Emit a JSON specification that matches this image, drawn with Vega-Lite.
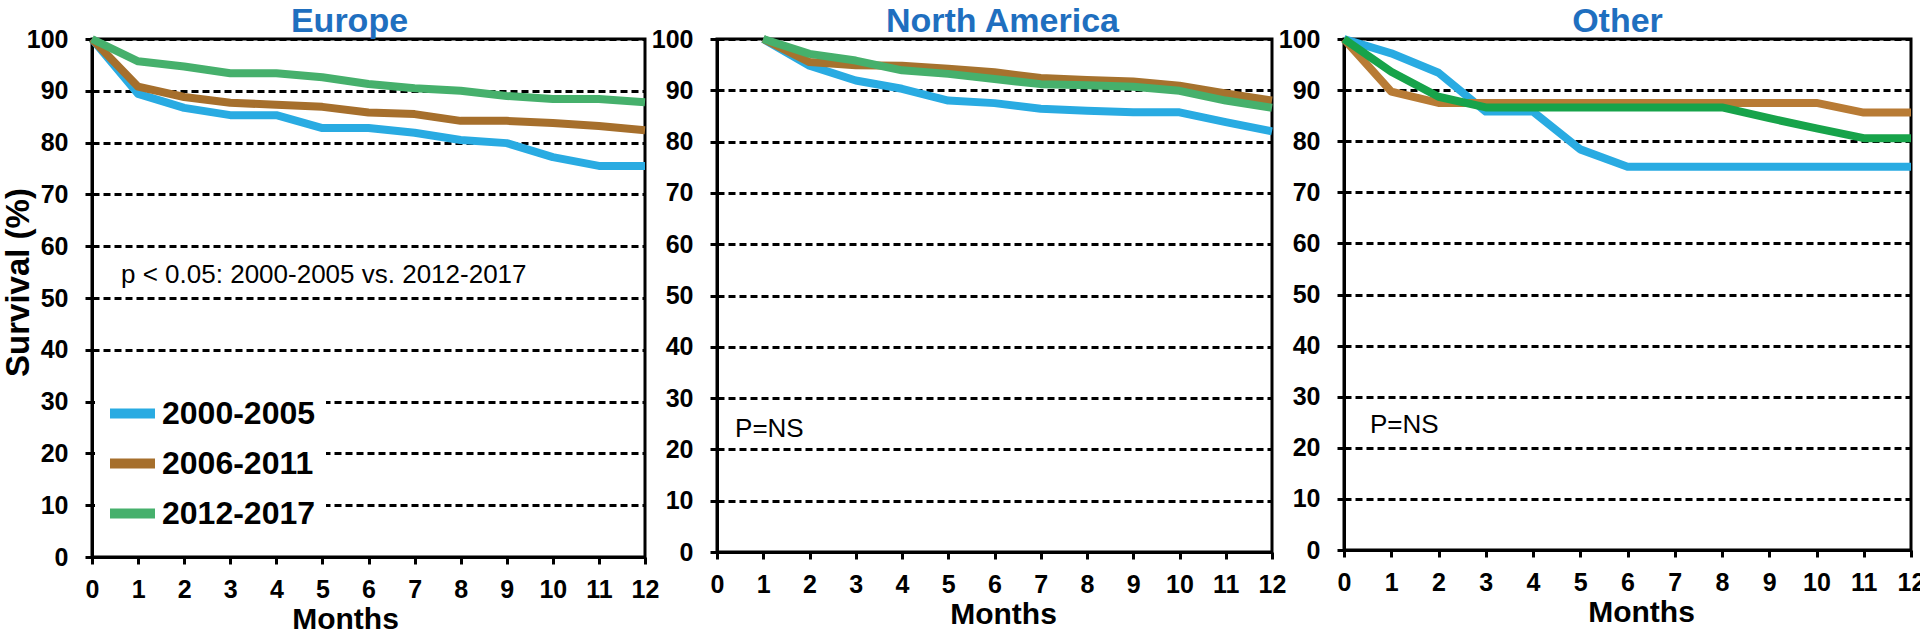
{
  "$schema": "https://vega.github.io/schema/vega-lite/v6.json",
  "background": "white",
  "padding": {"left": 0, "top": 3, "right": 0, "bottom": 0},
  "autosize": {"type": "pad"},
  "config": {
    "font": "Liberation Sans",
    "view": {"stroke": "black", "strokeWidth": 3},
    "axis": {
      "domainColor": "black", "domainWidth": 3,
      "tickColor": "black", "tickWidth": 3, "tickSize": 7,
      "labelFont": "Liberation Sans", "labelFontSize": 25, "labelFontWeight": "bold", "labelColor": "black",
      "titleFont": "Liberation Sans", "titleFontSize": 30, "titleFontWeight": "bold", "titleColor": "black"
    },
    "axisY": {"grid": true, "gridColor": "black", "gridWidth": 3, "gridDash": [7, 4], "labelPadding": 17, "values": [0,10,20,30,40,50,60,70,80,90,100]},
    "axisX": {"grid": false, "labelPadding": 13, "titlePadding": 2, "values": [0,1,2,3,4,5,6,7,8,9,10,11,12], "labelFlush": false},
    "title": {"font": "Liberation Sans", "fontSize": 34, "fontWeight": "bold", "color": "#1f6fbf", "anchor": "middle", "frame": "group", "offset": -12}
  },
  "datasets": {
    "europe": [
      {"period": "2000-2005", "month": 0, "survival": 100}, {"period": "2000-2005", "month": 1, "survival": 89.4}, {"period": "2000-2005", "month": 2, "survival": 86.7}, {"period": "2000-2005", "month": 3, "survival": 85.3}, {"period": "2000-2005", "month": 4, "survival": 85.3}, {"period": "2000-2005", "month": 5, "survival": 82.8}, {"period": "2000-2005", "month": 6, "survival": 82.8}, {"period": "2000-2005", "month": 7, "survival": 81.9}, {"period": "2000-2005", "month": 8, "survival": 80.5}, {"period": "2000-2005", "month": 9, "survival": 79.9}, {"period": "2000-2005", "month": 10, "survival": 77.2}, {"period": "2000-2005", "month": 11, "survival": 75.5}, {"period": "2000-2005", "month": 12, "survival": 75.5},
      {"period": "2006-2011", "month": 0, "survival": 100}, {"period": "2006-2011", "month": 1, "survival": 90.8}, {"period": "2006-2011", "month": 2, "survival": 88.8}, {"period": "2006-2011", "month": 3, "survival": 87.7}, {"period": "2006-2011", "month": 4, "survival": 87.3}, {"period": "2006-2011", "month": 5, "survival": 86.9}, {"period": "2006-2011", "month": 6, "survival": 85.8}, {"period": "2006-2011", "month": 7, "survival": 85.5}, {"period": "2006-2011", "month": 8, "survival": 84.2}, {"period": "2006-2011", "month": 9, "survival": 84.2}, {"period": "2006-2011", "month": 10, "survival": 83.8}, {"period": "2006-2011", "month": 11, "survival": 83.2}, {"period": "2006-2011", "month": 12, "survival": 82.4},
      {"period": "2012-2017", "month": 0, "survival": 100}, {"period": "2012-2017", "month": 1, "survival": 95.7}, {"period": "2012-2017", "month": 2, "survival": 94.7}, {"period": "2012-2017", "month": 3, "survival": 93.4}, {"period": "2012-2017", "month": 4, "survival": 93.4}, {"period": "2012-2017", "month": 5, "survival": 92.6}, {"period": "2012-2017", "month": 6, "survival": 91.3}, {"period": "2012-2017", "month": 7, "survival": 90.5}, {"period": "2012-2017", "month": 8, "survival": 90.0}, {"period": "2012-2017", "month": 9, "survival": 89.0}, {"period": "2012-2017", "month": 10, "survival": 88.4}, {"period": "2012-2017", "month": 11, "survival": 88.4}, {"period": "2012-2017", "month": 12, "survival": 87.8}
    ],
    "northamerica": [
      {"period": "2000-2005", "month": 1, "survival": 100}, {"period": "2000-2005", "month": 2, "survival": 94.8}, {"period": "2000-2005", "month": 3, "survival": 91.9}, {"period": "2000-2005", "month": 4, "survival": 90.3}, {"period": "2000-2005", "month": 5, "survival": 88.0}, {"period": "2000-2005", "month": 6, "survival": 87.5}, {"period": "2000-2005", "month": 7, "survival": 86.4}, {"period": "2000-2005", "month": 8, "survival": 86.0}, {"period": "2000-2005", "month": 9, "survival": 85.7}, {"period": "2000-2005", "month": 10, "survival": 85.7}, {"period": "2000-2005", "month": 11, "survival": 83.8}, {"period": "2000-2005", "month": 12, "survival": 82.0},
      {"period": "2006-2011", "month": 1, "survival": 100}, {"period": "2006-2011", "month": 2, "survival": 95.5}, {"period": "2006-2011", "month": 3, "survival": 94.9}, {"period": "2006-2011", "month": 4, "survival": 94.8}, {"period": "2006-2011", "month": 5, "survival": 94.2}, {"period": "2006-2011", "month": 6, "survival": 93.5}, {"period": "2006-2011", "month": 7, "survival": 92.4}, {"period": "2006-2011", "month": 8, "survival": 92.0}, {"period": "2006-2011", "month": 9, "survival": 91.7}, {"period": "2006-2011", "month": 10, "survival": 90.9}, {"period": "2006-2011", "month": 11, "survival": 89.4}, {"period": "2006-2011", "month": 12, "survival": 88.0},
      {"period": "2012-2017", "month": 1, "survival": 100}, {"period": "2012-2017", "month": 2, "survival": 97.1}, {"period": "2012-2017", "month": 3, "survival": 95.8}, {"period": "2012-2017", "month": 4, "survival": 93.9}, {"period": "2012-2017", "month": 5, "survival": 93.2}, {"period": "2012-2017", "month": 6, "survival": 92.2}, {"period": "2012-2017", "month": 7, "survival": 91.2}, {"period": "2012-2017", "month": 8, "survival": 91.0}, {"period": "2012-2017", "month": 9, "survival": 90.7}, {"period": "2012-2017", "month": 10, "survival": 89.9}, {"period": "2012-2017", "month": 11, "survival": 88.0}, {"period": "2012-2017", "month": 12, "survival": 86.6}
    ],
    "other": [
      {"period": "2000-2005", "month": 0, "survival": 100}, {"period": "2000-2005", "month": 1, "survival": 97.2}, {"period": "2000-2005", "month": 2, "survival": 93.4}, {"period": "2000-2005", "month": 3, "survival": 85.8}, {"period": "2000-2005", "month": 4, "survival": 85.8}, {"period": "2000-2005", "month": 5, "survival": 78.4}, {"period": "2000-2005", "month": 6, "survival": 75.0}, {"period": "2000-2005", "month": 7, "survival": 75.0}, {"period": "2000-2005", "month": 8, "survival": 75.0}, {"period": "2000-2005", "month": 9, "survival": 75.0}, {"period": "2000-2005", "month": 10, "survival": 75.0}, {"period": "2000-2005", "month": 11, "survival": 75.0}, {"period": "2000-2005", "month": 12, "survival": 75.0},
      {"period": "2006-2011", "month": 0, "survival": 100}, {"period": "2006-2011", "month": 1, "survival": 89.7}, {"period": "2006-2011", "month": 2, "survival": 87.5}, {"period": "2006-2011", "month": 3, "survival": 87.5}, {"period": "2006-2011", "month": 4, "survival": 87.5}, {"period": "2006-2011", "month": 5, "survival": 87.5}, {"period": "2006-2011", "month": 6, "survival": 87.5}, {"period": "2006-2011", "month": 7, "survival": 87.5}, {"period": "2006-2011", "month": 8, "survival": 87.5}, {"period": "2006-2011", "month": 9, "survival": 87.5}, {"period": "2006-2011", "month": 10, "survival": 87.5}, {"period": "2006-2011", "month": 11, "survival": 85.6}, {"period": "2006-2011", "month": 12, "survival": 85.6},
      {"period": "2012-2017", "month": 0, "survival": 100}, {"period": "2012-2017", "month": 1, "survival": 93.6}, {"period": "2012-2017", "month": 2, "survival": 88.7}, {"period": "2012-2017", "month": 3, "survival": 86.6}, {"period": "2012-2017", "month": 4, "survival": 86.6}, {"period": "2012-2017", "month": 5, "survival": 86.6}, {"period": "2012-2017", "month": 6, "survival": 86.6}, {"period": "2012-2017", "month": 7, "survival": 86.6}, {"period": "2012-2017", "month": 8, "survival": 86.6}, {"period": "2012-2017", "month": 9, "survival": 84.5}, {"period": "2012-2017", "month": 10, "survival": 82.5}, {"period": "2012-2017", "month": 11, "survival": 80.6}, {"period": "2012-2017", "month": 12, "survival": 80.6}
    ],
    "note_eu": [{"label": "p < 0.05: 2000-2005 vs. 2012-2017", "month": 0.63, "survival": 52.9}],
    "note_na": [{"label": "P=NS", "month": 0.39, "survival": 22.4}],
    "note_ot": [{"label": "P=NS", "month": 0.55, "survival": 22.9}]
  },
  "spacing": 72,
  "bounds": "flush",
  "resolve": {"scale": {"color": "independent", "x": "independent", "y": "independent"}, "legend": {"color": "independent"}},
  "hconcat": [
    {
      "title": {"text": "Europe", "dx": -19},
      "width": 553, "height": 518,
      "layer": [
        {
          "data": {"name": "europe"},
          "mark": {"type": "line", "strokeWidth": 8, "strokeJoin": "round"},
          "encoding": {
            "x": {"field": "month", "type": "quantitative", "scale": {"domain": [0, 12], "nice": false}, "axis": {"title": "Months", "titleX": 253}},
            "y": {"field": "survival", "type": "quantitative", "scale": {"domain": [0, 100], "nice": false},
              "axis": {"title": "Survival (%)", "titleFontSize": 33, "titleX": -64, "titleY": 243, "titleBaseline": "alphabetic", "titleAngle": 270}},
            "color": {"field": "period", "type": "nominal",
              "scale": {"domain": ["2000-2005", "2006-2011", "2012-2017"], "range": ["#29abe2", "#a66f2c", "#46b06c"]},
              "legend": {"orient": "none", "legendX": 3, "legendY": 337, "title": null, "fillColor": "white", "padding": 10,
                "symbolType": "stroke", "symbolStrokeWidth": 10, "symbolSize": 2025, "symbolOffset": 0, "labelOffset": 2,
                "labelFont": "Liberation Sans", "labelFontSize": 32, "labelFontWeight": "bold", "labelColor": "black", "rowPadding": 2}}
          }
        },
        {
          "data": {"name": "note_eu"},
          "mark": {"type": "text", "align": "left", "baseline": "alphabetic", "font": "Liberation Sans", "fontSize": 26, "color": "black"},
          "encoding": {
            "x": {"field": "month", "type": "quantitative"},
            "y": {"field": "survival", "type": "quantitative"},
            "text": {"field": "label"}
          }
        }
      ]
    },
    {
      "title": {"text": "North America", "dx": 8},
      "width": 555, "height": 513,
      "layer": [
        {
          "data": {"name": "northamerica"},
          "mark": {"type": "line", "strokeWidth": 8, "strokeJoin": "round"},
          "encoding": {
            "x": {"field": "month", "type": "quantitative", "scale": {"domain": [0, 12], "nice": false}, "axis": {"title": "Months", "titleX": 286}},
            "y": {"field": "survival", "type": "quantitative", "scale": {"domain": [0, 100], "nice": false}, "axis": {"title": null}},
            "color": {"field": "period", "type": "nominal",
              "scale": {"domain": ["2000-2005", "2006-2011", "2012-2017"], "range": ["#29abe2", "#a6722e", "#46b06c"]},
              "legend": null}
          }
        },
        {
          "data": {"name": "note_na"},
          "mark": {"type": "text", "align": "left", "baseline": "alphabetic", "font": "Liberation Sans", "fontSize": 26, "color": "black"},
          "encoding": {
            "x": {"field": "month", "type": "quantitative"},
            "y": {"field": "survival", "type": "quantitative"},
            "text": {"field": "label"}
          }
        }
      ]
    },
    {
      "title": {"text": "Other", "dx": -10},
      "width": 567, "height": 511,
      "layer": [
        {
          "data": {"name": "other"},
          "mark": {"type": "line", "strokeWidth": 8, "strokeJoin": "round"},
          "encoding": {
            "x": {"field": "month", "type": "quantitative", "scale": {"domain": [0, 12], "nice": false}, "axis": {"title": "Months", "titleX": 297}},
            "y": {"field": "survival", "type": "quantitative", "scale": {"domain": [0, 100], "nice": false}, "axis": {"title": null}},
            "color": {"field": "period", "type": "nominal",
              "scale": {"domain": ["2000-2005", "2006-2011", "2012-2017"], "range": ["#29abe2", "#b87b35", "#17a34a"]},
              "legend": null}
          }
        },
        {
          "data": {"name": "note_ot"},
          "mark": {"type": "text", "align": "left", "baseline": "alphabetic", "font": "Liberation Sans", "fontSize": 26, "color": "black"},
          "encoding": {
            "x": {"field": "month", "type": "quantitative"},
            "y": {"field": "survival", "type": "quantitative"},
            "text": {"field": "label"}
          }
        }
      ]
    }
  ]
}
